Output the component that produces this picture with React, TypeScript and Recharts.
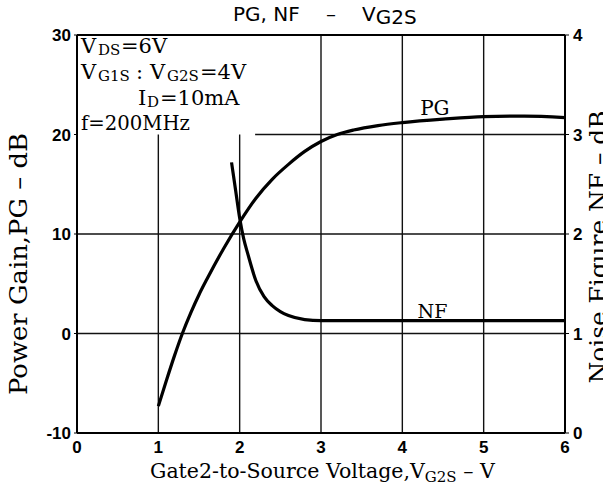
import {
  ComposedChart,
  Line,
  XAxis,
  YAxis,
  ReferenceLine,
  ReferenceDot,
} from "recharts";

// V_G2S in volts
const pgVolts = [1.0, 1.1, 1.2, 1.3, 1.4, 1.5, 1.6, 1.8, 2.0, 2.2, 2.4, 2.6, 2.8, 3.0, 3.2, 3.4, 3.7, 4.0, 4.5, 5.0, 5.5, 6.0];
const pgDb = [-7.3, -4.7, -2.2, 0.1, 2.1, 3.9, 5.5, 8.5, 11.2, 13.6, 15.5, 17.0, 18.3, 19.3, 20.0, 20.45, 20.9, 21.2, 21.55, 21.8, 21.85, 21.7];

const nfVolts = [1.9, 1.95, 2.0, 2.05, 2.1, 2.2, 2.3, 2.4, 2.5, 2.6, 2.8, 3.0, 4.0, 5.0, 6.0];
const nfDb = [2.72, 2.44, 2.16, 1.95, 1.8, 1.53, 1.37, 1.28, 1.22, 1.18, 1.14, 1.13, 1.13, 1.13, 1.13];

const xTicks = [0, 1, 2, 3, 4, 5, 6];
const pgTicks = [-10, 0, 10, 20, 30];
const nfTicks = [0, 1, 2, 3, 4];

// grid: x=1,2 stop under the conditions box, 20 dB line starts right of it
const fullVerticals = [3, 4, 5];
const shortVerticals = [1, 2];
const fullHorizontals = [0, 10];
const boxEdge = 2.19;

const pgData = pgVolts.map((x, i) => ({ x, pg: pgDb[i] }));
const nfData = nfVolts.map((x, i) => ({ x, nf: nfDb[i] }));

const serif = "DejaVu Serif";
const tickStyle = { fill: "#000", fontSize: 17, fontWeight: "bold", fontFamily: "Liberation Sans" };
const gridStroke = "#111";

export default function App() {
  return (
    <div style={{ position: "absolute", left: 0, top: 0, width: 603, height: 486, background: "#fff" }}>
      <ComposedChart width={603} height={486} margin={{ top: 35, right: 0, bottom: 0, left: 0 }}>
        <XAxis
          type="number"
          dataKey="x"
          domain={[0, 6]}
          ticks={xTicks}
          height={53}
          tick={tickStyle}
          tickLine={false}
          tickSize={0}
          tickMargin={8}
          axisLine={{ stroke: "#000", strokeWidth: 2 }}
          allowDuplicatedCategory={false}
        />
        <YAxis
          yAxisId="left"
          type="number"
          domain={[-10, 30]}
          ticks={pgTicks}
          width={77}
          tick={tickStyle}
          tickSize={3}
          tickMargin={3}
          tickLine={{ stroke: "#000" }}
          axisLine={{ stroke: "#000", strokeWidth: 2 }}
        />
        <YAxis
          yAxisId="right"
          orientation="right"
          type="number"
          domain={[0, 4]}
          ticks={nfTicks}
          width={38}
          tick={tickStyle}
          tickSize={4}
          tickMargin={4}
          tickLine={{ stroke: "#000" }}
          axisLine={{ stroke: "#000", strokeWidth: 2 }}
        />

        {fullVerticals.map((v) => (
          <ReferenceLine key={"fv" + v} yAxisId="left" x={v} stroke={gridStroke} strokeWidth={1.4} />
        ))}
        {shortVerticals.map((v) => (
          <ReferenceLine
            key={"sv" + v}
            yAxisId="left"
            segment={[{ x: v, y: -10 }, { x: v, y: 20 }]}
            stroke={gridStroke}
            strokeWidth={1.4}
          />
        ))}
        {fullHorizontals.map((h) => (
          <ReferenceLine key={"h" + h} yAxisId="left" y={h} stroke={gridStroke} strokeWidth={1.4} />
        ))}
        <ReferenceLine
          yAxisId="left"
          segment={[{ x: boxEdge, y: 20 }, { x: 6, y: 20 }]}
          stroke={gridStroke}
          strokeWidth={1.4}
        />
        <ReferenceLine yAxisId="left" y={30} stroke="#000" strokeWidth={2} ifOverflow="visible" />

        <Line
          yAxisId="left"
          data={pgData}
          dataKey="pg"
          type="monotone"
          stroke="#000"
          strokeWidth={3.2}
          dot={false}
          isAnimationActive={false}
        />
        <Line
          yAxisId="right"
          data={nfData}
          dataKey="nf"
          type="monotone"
          stroke="#000"
          strokeWidth={3.2}
          dot={false}
          isAnimationActive={false}
        />

        <ReferenceDot
          yAxisId="left"
          x={4.4}
          y={22.66}
          r={1}
          fill="none"
          stroke="none"
          label={{ value: "PG", position: "center", fill: "#000", fontSize: 20, fontFamily: serif }}
        />
        <ReferenceDot
          yAxisId="left"
          x={4.37}
          y={2.26}
          r={1}
          fill="none"
          stroke="none"
          label={{ value: "NF", position: "center", fill: "#000", fontSize: 19, fontFamily: serif }}
        />
      </ComposedChart>

      <svg
        width={603}
        height={486}
        style={{ position: "absolute", left: 0, top: 0, pointerEvents: "none" }}
      >
        {/* title */}
        <text y={21} fontFamily="DejaVu Sans" fontSize={20} fill="#000">
          <tspan x={233}>PG, NF</tspan>
          <tspan x={326}>–</tspan>
          <tspan x={362}>V</tspan>
          <tspan dy={3}>G2S</tspan>
        </text>

        {/* measurement conditions */}
        <g fontFamily={serif} fontSize={21} fill="#000">
          <text y={53}>
            <tspan x={81}>V</tspan>
            <tspan x={98} fontSize={15} dy={2}>DS</tspan>
            <tspan x={121} dy={-2}>=6V</tspan>
          </text>
          <text y={79}>
            <tspan x={81}>V</tspan>
            <tspan x={98} fontSize={15} dy={2}>G1S</tspan>
            <tspan x={136} dy={-2}>:</tspan>
            <tspan x={150}>V</tspan>
            <tspan x={167} fontSize={15} dy={2}>G2S</tspan>
            <tspan x={200} dy={-2}>=4V</tspan>
          </text>
          <text y={105}>
            <tspan x={138}>I</tspan>
            <tspan x={147} fontSize={15} dy={2}>D</tspan>
            <tspan x={160} dy={-2}>=10mA</tspan>
          </text>
          <text x={81} y={130} textLength={109} lengthAdjust="spacingAndGlyphs">
            f=200MHz
          </text>
        </g>

        {/* x axis title */}
        <text y={478} fontFamily={serif} fontSize={20.5} fill="#000">
          <tspan x={150}>Gate2-to-Source Voltage,V</tspan>
          <tspan fontSize={15} dy={4}>G2S</tspan>
          <tspan dy={-4}> – V</tspan>
        </text>

        {/* y axis titles */}
        <text
          x={27}
          y={264}
          transform="rotate(-90 27 264)"
          textAnchor="middle"
          fontFamily={serif}
          fontSize={25}
          fill="#000"
          textLength={262}
          lengthAdjust="spacingAndGlyphs"
        >
          Power Gain,PG – dB
        </text>
        <text
          x={607}
          y={247}
          transform="rotate(-90 607 247)"
          textAnchor="middle"
          fontFamily={serif}
          fontSize={25}
          fill="#000"
          textLength={273}
          lengthAdjust="spacingAndGlyphs"
        >
          Noise Figure NF – dB
        </text>
      </svg>
    </div>
  );
}
